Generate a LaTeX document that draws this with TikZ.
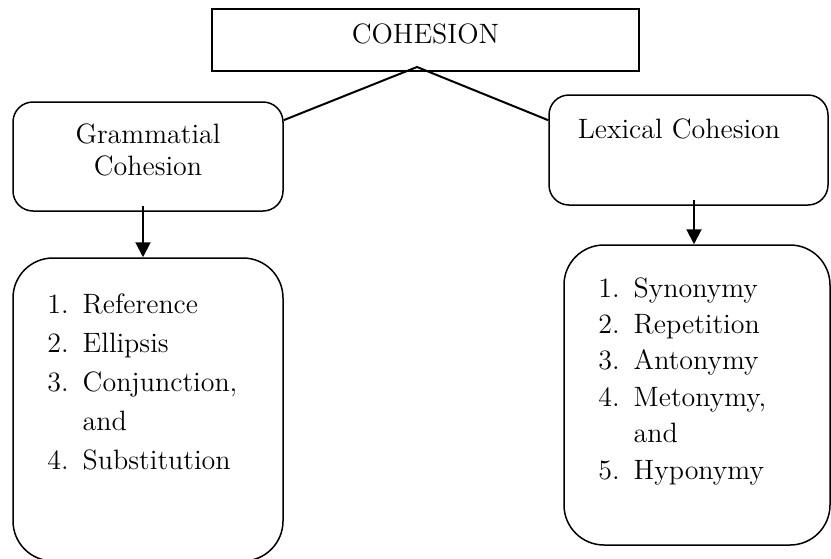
\documentclass[tikz,border=0pt]{standalone}
\usepackage{tikz}
\usetikzlibrary{arrows.meta, positioning, calc}

\begin{document}
\begin{tikzpicture}[
    x=0.5pt, y=-0.5pt,
    box/.style={draw, line width=0.75pt, rounded corners=#1, inner sep=0pt},
    box/.default=10pt,
    lbl/.style={font=\fontsize{14}{16}\selectfont, inner sep=0pt, align=center},
    items/.style={font=\fontsize{14}{#1}\selectfont, inner sep=0pt, anchor=base west},
    arrow/.style={-{Triangle[length=7.5pt,width=7.5pt]}, line width=1pt},
    link/.style={line width=1pt}
  ]
  \useasboundingbox (0,0) rectangle (831,558);

  % top
  \node[draw, line width=1pt, minimum width=213.5pt, minimum height=31pt, inner sep=0pt] (top) at (425.5,40) {};
  \node[lbl] (toptxt) at (425.5,33.5) {COHESION};
  \coordinate (apex) at (417,67);

  % left branch
  \node[box, minimum width=135pt, minimum height=54.5pt] (gram) at (148,156.5) {};
  \node[lbl] (gramtxt) at (148,150) {Grammatial\\Cohesion};
  \node[box=20pt, minimum width=135pt, minimum height=151.5pt] (gramlist) at (148,409.5) {};
  \node[items=19.5] (gramitems) at (47,313) {%
    \begin{tabular}[t]{@{}l@{\hspace{7pt}}l@{}}
      1. & Reference\\
      2. & Ellipsis\\
      3. & Conjunction,\\
         & and\\
      4. & Substitution
    \end{tabular}};

  % right branch
  \node[box, minimum width=139.5pt, minimum height=55pt] (lex) at (688.5,150) {};
  \node[lbl] (lextxt) at (679,128.5) {Lexical Cohesion};
  \node[box=20pt, minimum width=133pt, minimum height=150pt] (lexlist) at (697,395) {};
  \node[items=18.2] (lexitems) at (598,297) {%
    \begin{tabular}[t]{@{}l@{\hspace{7pt}}l@{}}
      1. & Synonymy\\
      2. & Repetition\\
      3. & Antonymy\\
      4. & Metonymy,\\
         & and\\
      5. & Hyponymy
    \end{tabular}};

  % connectors
  \draw[link] (gram.15) -- (apex) -- (lex.168);
  \draw[arrow] ([xshift=-2.5pt,yshift=3pt]gram.south) -- ([xshift=-2.5pt]gramlist.north);
  \draw[arrow] ([xshift=2.75pt,yshift=3pt]lex.south) -- ([xshift=-1.5pt]lexlist.north);
\end{tikzpicture}
\end{document}
